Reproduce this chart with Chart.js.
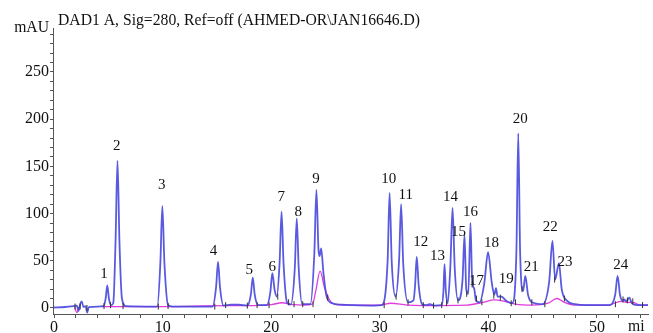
<!DOCTYPE html>
<html>
<head>
<meta charset="utf-8">
<script src="https://cdn.jsdelivr.net/npm/chart.js@4.4.1/dist/chart.umd.min.js"></script>
<style>
  body { margin: 0; background: #fff; }
  #wrap { width: 653px; height: 333px; }
</style>
</head>
<body>
<div id="wrap"><canvas id="chrom" width="653" height="333"></canvas></div>
<script>
// signal DAD1 A (min, mAU)
const signalTimes = [0, 1.0, 1.8, 2.1, 2.25, 2.4, 2.55, 2.7, 2.9, 3.05, 3.2, 4.0,
  4.55, 4.75, 4.9, 5.05, 5.25, 5.45, 5.66, 5.84, 6.02, 6.25, 6.6,
  9.5, 9.79, 9.97, 10.16, 10.5, 10.9,
  14.6, 14.92, 15.1, 15.28, 15.6, 16.3, 17.0, 17.8,
  18.12, 18.3, 18.48, 18.8, 19.6, 19.92, 20.1, 20.3, 20.5, 20.77, 20.95, 21.13, 21.45,
  21.8, 22.17, 22.35, 22.53, 22.85, 23.6, 23.97, 24.16, 24.35, 24.45, 24.6, 24.8, 25.1, 25.6,
  26.5, 27.5, 29.5, 30.2, 30.72, 30.9, 31.1, 31.45, 31.78, 31.96, 32.16, 32.6,
  33.1, 33.25, 33.4, 33.58, 33.9, 34.3, 34.6, 35.0, 35.7, 35.86, 35.96, 36.08, 36.25,
  36.5, 36.7, 36.9, 37.2, 37.62, 37.8, 37.96, 38.15, 38.35, 38.5, 38.7, 38.85, 39.2,
  39.62, 39.97, 40.32, 40.55, 40.7, 40.85, 41.2, 41.6, 42.2, 42.58, 42.75, 42.92, 43.2,
  43.4, 43.65, 44.0, 45.0, 45.6, 45.9, 46.15, 46.5, 46.75, 47.2, 48.0, 49.0,
  51.2, 51.68, 51.9, 52.12, 52.35, 52.5, 52.7, 53.0, 53.2, 53.7, 54.7];
const signalValues = [0.5, 1.0, 2.0, 2.5, -3, 4, 7, 1, 2, -5, 1, 1.5,
  2, 10, 24, 10, 3, 5, 70, 156, 70, 10, 2,
  1.5, 48, 108, 48, 3, 1.5,
  1.5, 22, 49, 22, 2.5, 3.5, 3.5, 2.5,
  14, 32, 14, 3, 3, 17, 37, 20, 12, 48, 102, 48, 6,
  3.5, 42, 95, 42, 4, 4, 58, 125, 62, 55, 63, 38, 12, 5,
  3.5, 3, 2.5, 3, 50, 122, 48, 12, 52, 110, 46, 6,
  8, 24, 54, 24, 4, 3, 4, 2.5, 3, 18, 46.5, 18, 5,
  45, 106, 42, 8, 30, 77.6, 20, 15, 90, 30, 20, 8, 6,
  26, 59, 26, 14, 21, 12, 12, 8, 5, 60, 185, 60, 18,
  34, 14, 6, 4, 28, 71, 30, 47.5, 20, 8, 4, 3,
  3, 14, 34, 14, 8, 9, 7, 11, 5, 3, 3];

// integration baseline (pink), null = no baseline drawn
const baselineTimes = [1.9, 2.1, 2.3, 2.35, 4.4, 10, 16, 17.5, 20, 21, 22, 23, 23.8,
  24.1, 24.5, 24.9, 25.3, 25.8, 27, 30, 31, 32.5, 34, 38, 39.5, 40.5, 41.5, 42.5,
  44, 45.5, 46.3, 47, 48, 51, 52.2, 52.8, 53.3, 54, 54.7];
const baselineValues = [1, -5, 1, null, 1.5, 1.5, 2.5, 2.5, 3.5, 5.5, 3.5, 3, 4,
  18, 39, 22, 10, 4, 3, 3, 5, 3, 2.5, 3, 6, 8.5, 7, 4,
  3, 5, 10, 6, 3, 3, 7, 6, 6, 3, 3];

// peak start/end marks
const markTimes = [1.93, 2.4, 3.03, 4.6, 5.2, 6.35, 9.6, 10.5, 14.8, 15.8, 17.8, 18.7,
  19.8, 20.6, 21.6, 22.1, 22.9, 23.85, 25.2, 30.4, 31.5, 32.6, 34.0, 34.95, 35.7,
  36.15, 37.2, 38.0, 38.5, 38.9, 39.4, 40.5, 41.1, 42.1, 42.5, 43.1, 44.0, 45.2,
  46.1, 47.0, 51.7, 52.4, 52.8, 53.3, 54.2];
const markValues = [1.5, 1.5, 0, 2, 3, 2, 1.5, 2, 1.5, 3, 2.5, 3,
  3, 12, 6, 4, 4, 4, 11, 3, 12, 6, 3, 2.5, 3,
  5, 8, 15, 25, 10, 6, 13, 11, 5, 6, 20, 6, 4,
  30, 10, 4, 9, 8, 7, 3];

// peak numbers and where their labels sit
const peakNumbers = ['1', '2', '3', '4', '5', '6', '7', '8', '9', '10', '11', '12',
  '13', '14', '15', '16', '17', '18', '19', '20', '21', '22', '23', '24'];
const peakLabelTimes = [4.6, 5.78, 9.91, 14.68, 17.98, 20.09, 20.92, 22.48, 24.13, 30.83,
  32.39, 33.76, 35.32, 36.51, 37.25, 38.35, 38.9, 40.28, 41.65, 42.94, 43.94, 45.69, 47.06, 52.2];
const peakLabelValues = [36, 172, 130, 60.5, 40.5, 43.5, 117, 102, 137, 137,
  120, 70, 55, 118, 80, 102, 29, 69, 31, 200, 43.5, 86, 49, 45.5];

// axis ticks
const xTicks = [0, 2, 4, 6, 8, 10, 12, 14, 16, 18, 20, 22, 24, 26, 28, 30, 32, 34, 36,
  38, 40, 42, 44, 46, 48, 50, 52, 54];
const xTickLabels = [0, 10, 20, 30, 40, 50];
const yTicks = [0, 10, 20, 30, 40, 50, 60, 70, 80, 90, 100, 110, 120, 130, 140, 150,
  160, 170, 180, 190, 200, 210, 220, 230, 240, 250, 260, 270, 280, 290];
const yTickLabels = [0, 50, 100, 150, 200, 250];

const chartTitle = 'DAD1 A, Sig=280, Ref=off (AHMED-OR\\JAN16646.D)';
const SERIF = '"Liberation Serif", "Times New Roman", serif';

const toPoints = (ts, vs) => ts.map((t, i) => ({ x: t, y: vs[i] }));

// texte: titlu, unitati, numere de pic
const textPlugin = {
  id: 'chromText',
  afterDatasetsDraw(chart) {
    const { ctx, scales: { x, y } } = chart;
    ctx.save();
    ctx.fillStyle = '#111';
    ctx.font = '15px ' + SERIF;
    ctx.textAlign = 'center';
    ctx.textBaseline = 'middle';
    peakNumbers.forEach((n, i) => {
      ctx.fillText(n, x.getPixelForValue(peakLabelTimes[i]), y.getPixelForValue(peakLabelValues[i]));
    });
    ctx.textBaseline = 'alphabetic';
    ctx.textAlign = 'left';
    ctx.font = '15.7px ' + SERIF;
    ctx.fillText(chartTitle, 58, 25);
    ctx.textAlign = 'right';
    ctx.fillText('mAU', 49, 32);
    ctx.textAlign = 'left';
    ctx.fillText('mi', 628, 331);
    ctx.restore();
  }
};

new Chart(document.getElementById('chrom'), {
  type: 'line',
  data: {
    datasets: [
      {
        label: 'baseline',
        data: toPoints(baselineTimes, baselineValues),
        borderColor: '#e03ce0',
        borderWidth: 1.3,
        pointRadius: 0,
        cubicInterpolationMode: 'monotone',
        spanGaps: false,
        order: 2
      },
      {
        label: 'signal',
        data: toPoints(signalTimes, signalValues),
        borderColor: 'rgba(72, 72, 222, 0.9)',
        borderWidth: 1.8,
        pointRadius: 0,
        cubicInterpolationMode: 'monotone',
        order: 1
      },
      {
        label: 'marks',
        type: 'scatter',
        data: toPoints(markTimes, markValues),
        pointStyle: 'line',
        rotation: 90,
        radius: 3,
        borderColor: '#333',
        borderWidth: 1,
        order: 0
      }
    ]
  },
  options: {
    responsive: false,
    animation: false,
    layout: { padding: { top: 28, right: 3, left: 0, bottom: 0 } },
    plugins: {
      legend: { display: false },
      tooltip: { enabled: false }
    },
    scales: {
      x: {
        type: 'linear',
        min: -0.1,
        max: 54.7,
        afterBuildTicks: (s) => { s.ticks = xTicks.map(v => ({ value: v })); },
        afterFit: (s) => { s.height = 19; },
        grid: { drawOnChartArea: false, drawTicks: true, tickLength: 4, color: '#555' },
        border: { display: true, color: '#555', width: 1 },
        ticks: {
          autoSkip: false,
          maxRotation: 0,
          padding: 0,
          color: '#111',
          font: { family: SERIF, size: 16 },
          callback: (v) => xTickLabels.includes(v) ? String(v) : ''
        }
      },
      y: {
        type: 'linear',
        min: -6.4,
        max: 296.6,
        afterBuildTicks: (s) => { s.ticks = yTicks.map(v => ({ value: v })); },
        afterFit: (s) => { s.width = 53; },
        grid: { drawOnChartArea: false, drawTicks: true, tickLength: 3, color: '#555' },
        border: { display: true, color: '#555', width: 1 },
        ticks: {
          autoSkip: false,
          padding: 1,
          color: '#111',
          font: { family: SERIF, size: 16 },
          callback: (v) => yTickLabels.includes(v) ? String(v) : ''
        }
      }
    }
  },
  plugins: [textPlugin]
});
</script>
</body>
</html>
